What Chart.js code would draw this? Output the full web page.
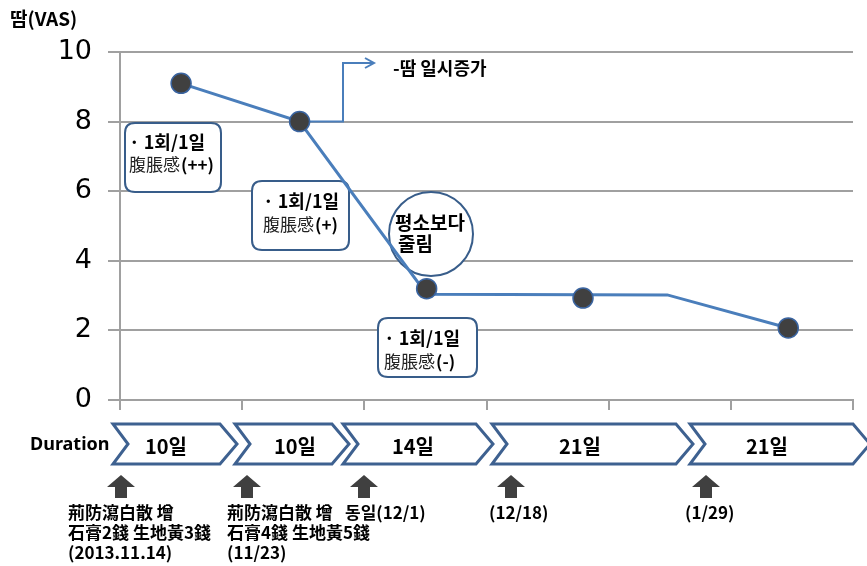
<!DOCTYPE html>
<html><head><meta charset="utf-8">
<script src="https://cdn.jsdelivr.net/npm/chart.js@4.4.0/dist/chart.umd.min.js"></script>
<style>html,body{margin:0;padding:0;background:#fff}#wrap{width:867px;height:566px;position:relative}</style>
</head><body><div id="wrap"><canvas id="c" width="867" height="566"></canvas></div>
<script>
// ---- data ----
const yTicks = [0, 2, 4, 6, 8, 10];
const yAxisLabel = '땀(VAS)';
const lineX = [0.5, 1.47, 2.51, 4.48, 5.47];
const lineY = [9.1, 8.0, 3.04, 3.02, 2.07];
const markerX = [0.5, 1.47, 2.51, 3.79, 5.47];
const markerY = [9.1, 8.0, 3.2, 2.93, 2.07];
const durations = ['10일', '10일', '14일', '21일', '21일'];
const durationLabel = 'Duration';
const notes = [
  ['荊防瀉白散 增', '石膏2錢 生地黃3錢', '(2013.11.14)'],
  ['荊防瀉白散 增', '石膏4錢 生地黃5錢', '(11/23)'],
  ['동일(12/1)'],
  ['(12/18)'],
  ['(1/29)']
];
const callouts = [
  ['· 1회/1일', '腹脹感', '(++)'],
  ['· 1회/1일', '腹脹感', '(+)'],
  ['· 1회/1일', '腹脹感', '(-)']
];
const circleText = ['평소보다', '줄림'];
const arrowText = '-땀 일시증가';

// ---- layout (pixels) ----
const KR = '"Noto Sans CJK KR", "Noto Sans", sans-serif';
const BOX = [[125,123,96,69],[252,181,97,69],[378,318,99,59]];
const BOXTEXT = [[129,142,129,165],[263,201,263,225],[384,338,384,362]];
const CHEV = [[113,237],[235,349],[343,493],[492,693],[690,870]];
const CHEVTXT = [166,295,413,580,767];
const ARROWS = [121,247,364,511,706];
const NOTEX = [[68,513],[227,513],[345,513],[489,513],[685,513]];

function rrect(ctx,x,y,w,h,r){
  ctx.beginPath();
  ctx.moveTo(x+r,y);ctx.lineTo(x+w-r,y);ctx.quadraticCurveTo(x+w,y,x+w,y+r);
  ctx.lineTo(x+w,y+h-r);ctx.quadraticCurveTo(x+w,y+h,x+w-r,y+h);
  ctx.lineTo(x+r,y+h);ctx.quadraticCurveTo(x,y+h,x,y+h-r);
  ctx.lineTo(x,y+r);ctx.quadraticCurveTo(x,y,x+r,y);ctx.closePath();
}

const annot = {
  id: 'annot',
  beforeDatasetsDraw(chart){
    const ctx = chart.ctx, xs = chart.scales.x, ys = chart.scales.y;
    ctx.save();
    // elbow arrow from second point
    const sx = xs.getPixelForValue(markerX[1]), sy = ys.getPixelForValue(markerY[1]);
    ctx.strokeStyle = '#4a7ebb'; ctx.lineWidth = 2;
    ctx.beginPath(); ctx.moveTo(sx, sy); ctx.lineTo(343, sy); ctx.lineTo(343, 63); ctx.lineTo(374, 63); ctx.stroke();
    ctx.beginPath(); ctx.moveTo(365, 58); ctx.lineTo(374, 63); ctx.lineTo(365, 68); ctx.stroke();
    ctx.fillStyle = '#000'; ctx.textBaseline = 'middle'; ctx.textAlign = 'left';
    ctx.font = 'bold 18px ' + KR; ctx.fillText(arrowText, 393, 68);
    // callout boxes
    for (let i = 0; i < 3; i++){
      const b = BOX[i], t = BOXTEXT[i];
      rrect(ctx, b[0], b[1], b[2], b[3], 10);
      ctx.fillStyle = '#fff'; ctx.fill();
      ctx.strokeStyle = '#385d8a'; ctx.lineWidth = 2; ctx.stroke();
      ctx.fillStyle = '#000';
      ctx.font = 'bold 18px ' + KR; ctx.fillText(callouts[i][0], t[0], t[1]);
      ctx.font = '17px ' + KR; ctx.fillStyle = '#222';
      ctx.fillText(callouts[i][1], t[2], t[3]);
      const w = ctx.measureText(callouts[i][1]).width;
      ctx.font = 'bold 17px ' + KR; ctx.fillStyle = '#000';
      ctx.fillText(callouts[i][2], t[2] + w + 1, t[3]);
    }
    // circle
    ctx.beginPath(); ctx.arc(431, 234, 42, 0, Math.PI*2);
    ctx.fillStyle = '#fff'; ctx.fill(); ctx.strokeStyle = '#385d8a'; ctx.lineWidth = 2; ctx.stroke();
    ctx.fillStyle = '#000'; ctx.font = 'bold 19px ' + KR;
    ctx.textAlign = 'center'; ctx.fillText(circleText[0], 430, 223);
    ctx.textAlign = 'left'; ctx.fillText(circleText[1], 398, 244);
    ctx.restore();
  },
  afterDraw(chart){
    const ctx = chart.ctx;
    ctx.save();
    ctx.textBaseline = 'middle';
    // y axis title
    ctx.fillStyle = '#000'; ctx.font = 'bold 19px ' + KR; ctx.textAlign = 'left';
    ctx.fillText(yAxisLabel, 10, 19);
    // duration
    ctx.font = 'bold 18px "Noto Sans", sans-serif';
    ctx.fillText(durationLabel, 30, 445);
    for (let i = 0; i < CHEV.length; i++){
      const [x0, x1] = CHEV[i], top = 424, bot = 464, mid = 444, d = 17;
      ctx.beginPath();
      ctx.moveTo(x0, top); ctx.lineTo(x1 - d, top); ctx.lineTo(x1, mid); ctx.lineTo(x1 - d, bot);
      ctx.lineTo(x0, bot); ctx.lineTo(x0 + d - 2, mid); ctx.closePath();
      ctx.fillStyle = '#fff'; ctx.fill();
      ctx.strokeStyle = '#3e6190'; ctx.lineWidth = 3; ctx.lineJoin = 'miter'; ctx.stroke();
      ctx.fillStyle = '#000'; ctx.font = 'bold 20px ' + KR; ctx.textAlign = 'center';
      ctx.fillText(durations[i], CHEVTXT[i], 446);
    }
    // up arrows
    ctx.fillStyle = '#404040';
    for (const cx of ARROWS){
      ctx.beginPath();
      ctx.moveTo(cx, 475); ctx.lineTo(cx + 14, 487); ctx.lineTo(cx + 6, 487); ctx.lineTo(cx + 6, 498);
      ctx.lineTo(cx - 6, 498); ctx.lineTo(cx - 6, 487); ctx.lineTo(cx - 14, 487); ctx.closePath(); ctx.fill();
    }
    // notes
    ctx.fillStyle = '#000'; ctx.font = 'bold 17px ' + KR; ctx.textAlign = 'left';
    for (let i = 0; i < notes.length; i++){
      notes[i].forEach((s, j) => ctx.fillText(s, NOTEX[i][0], NOTEX[i][1] + j * 20));
    }
    ctx.restore();
  }
};

new Chart(document.getElementById('c'), {
  type: 'scatter',
  data: {
    datasets: [
      {
        data: markerX.map((x, i) => ({x, y: markerY[i]})),
        showLine: false, pointRadius: 10, pointHoverRadius: 10,
        pointBackgroundColor: '#404040', pointBorderColor: '#3a64a0', pointBorderWidth: 1.5
      },
      {
        data: lineX.map((x, i) => ({x, y: lineY[i]})),
        showLine: true, borderColor: '#4a7ebb', borderWidth: 3, pointRadius: 0, fill: false, tension: 0
      }
    ]
  },
  options: {
    responsive: false, animation: false, devicePixelRatio: 1,
    layout: { padding: { left: 0, top: 52, right: 14, bottom: 0 } },
    plugins: { legend: { display: false }, tooltip: { enabled: false } },
    scales: {
      x: {
        type: 'linear', min: 0, max: 6,
        afterFit: s => { s.height = 166; },
        ticks: { display: false, stepSize: 1 },
        grid: { drawOnChartArea: false, drawTicks: true, tickLength: 10, color: '#a0a0a0', lineWidth: 2 },
        border: { color: '#a0a0a0', width: 2 }
      },
      y: {
        min: 0, max: 10,
        afterFit: s => { s.width = 120; },
        afterBuildTicks: s => { s.ticks = yTicks.map(v => ({value: v})); },
        ticks: { color: '#000', font: { family: '"DejaVu Sans", sans-serif', size: 27 }, padding: 16 },
        grid: { color: '#a0a0a0', lineWidth: 2, tickLength: 12 },
        border: { color: '#a0a0a0', width: 2 }
      }
    }
  },
  plugins: [annot]
});
</script></body></html>
